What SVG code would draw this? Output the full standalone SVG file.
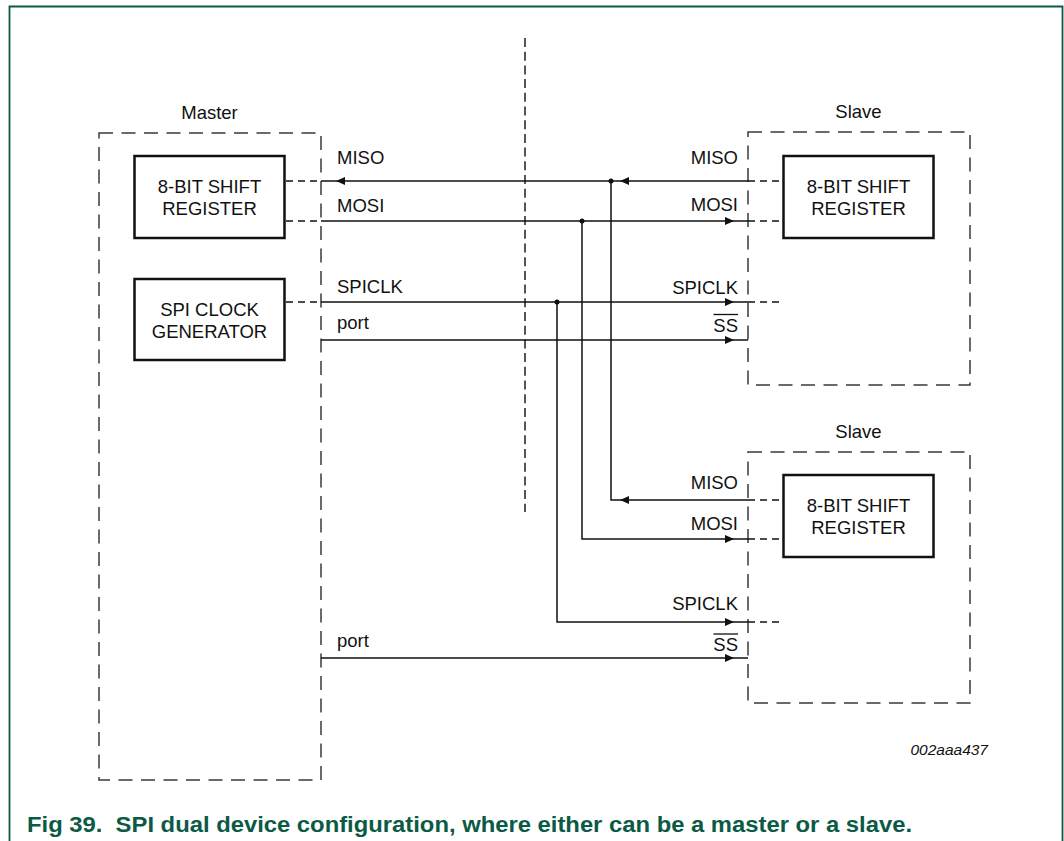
<svg xmlns="http://www.w3.org/2000/svg" xmlns:xlink="http://www.w3.org/1999/xlink" width="1064" height="841" viewBox="0 0 1064 841">
<style>
.t{font-family:"Liberation Sans",Arial,sans-serif;font-size:18.5px;fill:#111}
.c{text-anchor:middle}
.e{text-anchor:end}
.box{fill:none;stroke:#3a3a3a;stroke-width:1.5;stroke-dasharray:14 8.5}
.reg{fill:#fff;stroke:#111;stroke-width:2.5}
.w{fill:none;stroke:#111;stroke-width:1.5}
.d{fill:none;stroke:#111;stroke-width:1.5;stroke-dasharray:7 5}
.frame{fill:none;stroke:#0b5a45;stroke-width:1.8}
</style>
<defs>
<path id="ar" d="M0,0 L-9,-4 L-9,4 Z" fill="#111"/>
<path id="al" d="M0,0 L9,-4 L9,4 Z" fill="#111"/>
</defs>
<rect width="1064" height="841" fill="#fff"/>
<path class="frame" d="M9.5,841 V6.5 H1062.5 V841"/>
<line x1="525" y1="38" x2="525" y2="512" stroke="#555" stroke-width="2" stroke-dasharray="9 4.7"/>

<g id="master">
<text class="t c" x="209.5" y="119">Master</text>
<rect class="box" x="99" y="133" width="222" height="647"/>
</g>
<g id="master-shift">
<rect class="reg" x="134.5" y="156" width="150" height="82"/>
<text class="t c" x="209.5" y="193">8-BIT SHIFT</text>
<text class="t c" x="209.5" y="215">REGISTER</text>
</g>
<g id="master-clock">
<rect class="reg" x="134.5" y="279" width="150" height="81"/>
<text class="t c" x="209.5" y="316">SPI CLOCK</text>
<text class="t c" x="209.5" y="337.5">GENERATOR</text>
</g>

<g id="slave1">
<text class="t c" x="858.5" y="118">Slave</text>
<rect class="box" x="748" y="132" width="222" height="253"/>
</g>
<g id="slave1-shift">
<rect class="reg" x="783.5" y="156" width="150" height="82"/>
<text class="t c" x="858.5" y="193">8-BIT SHIFT</text>
<text class="t c" x="858.5" y="215">REGISTER</text>
</g>

<g id="slave2">
<text class="t c" x="858.5" y="438">Slave</text>
<rect class="box" x="748" y="452" width="222" height="251"/>
</g>
<g id="slave2-shift">
<rect class="reg" x="783.5" y="475" width="150" height="82"/>
<text class="t c" x="858.5" y="512">8-BIT SHIFT</text>
<text class="t c" x="858.5" y="534">REGISTER</text>
</g>

<g id="connectors">
<!-- dashed stubs -->
<path class="d" d="M286,181 H321 M286,221 H321 M286,302 H321 M748,181 H783 M748,221 H783 M748,302 H784 M748,500 H783 M748,539 H783 M748,622 H784"/>
<!-- MISO -->
<path class="w" d="M321,181 H748 M611,181 V500 H748"/>
<!-- MOSI -->
<path class="w" d="M321,221 H748 M582,221 V539 H748"/>
<!-- SPICLK -->
<path class="w" d="M321,302 H748 M557,302 V622 H748"/>
<!-- port -->
<path class="w" d="M321,340 H748 M321,658 H748"/>
<use xlink:href="#al" x="336" y="181"/>
<use xlink:href="#al" x="620" y="181"/>
<use xlink:href="#al" x="620" y="500"/>
<use xlink:href="#ar" x="734" y="221"/>
<use xlink:href="#ar" x="734" y="302"/>
<use xlink:href="#ar" x="734" y="340"/>
<use xlink:href="#ar" x="734" y="539"/>
<use xlink:href="#ar" x="734" y="622"/>
<use xlink:href="#ar" x="734" y="658"/>
<circle cx="611" cy="181" r="2.5" fill="#111"/>
<circle cx="582" cy="221" r="2.5" fill="#111"/>
<circle cx="557" cy="302" r="2.5" fill="#111"/>
</g>

<g id="labels">
<text class="t" x="337" y="164">MISO</text>
<text class="t" x="337" y="212">MOSI</text>
<text class="t" x="337" y="293">SPICLK</text>
<text class="t" x="337" y="329">port</text>
<text class="t" x="337" y="647">port</text>
<text class="t e" x="738" y="164">MISO</text>
<text class="t e" x="738" y="211">MOSI</text>
<text class="t e" x="738" y="294">SPICLK</text>
<text class="t e" x="738" y="332">SS</text>
<line x1="713.5" y1="314.5" x2="738" y2="314.5" stroke="#111" stroke-width="1.3"/>
<text class="t e" x="738" y="489">MISO</text>
<text class="t e" x="738" y="530">MOSI</text>
<text class="t e" x="738" y="610">SPICLK</text>
<text class="t e" x="738" y="651">SS</text>
<line x1="713.5" y1="634" x2="738" y2="634" stroke="#111" stroke-width="1.3"/>
</g>

<text x="988" y="755" text-anchor="end" font-family="'Liberation Sans',Arial,sans-serif" font-style="italic" font-size="15.5" fill="#111">002aaa437</text>
<text x="27" y="832" font-family="'Liberation Sans',Arial,sans-serif" font-weight="bold" font-size="22" fill="#0b5a45" textLength="885" lengthAdjust="spacingAndGlyphs" xml:space="preserve">Fig 39.  SPI dual device configuration, where either can be a master or a slave.</text>
</svg>
